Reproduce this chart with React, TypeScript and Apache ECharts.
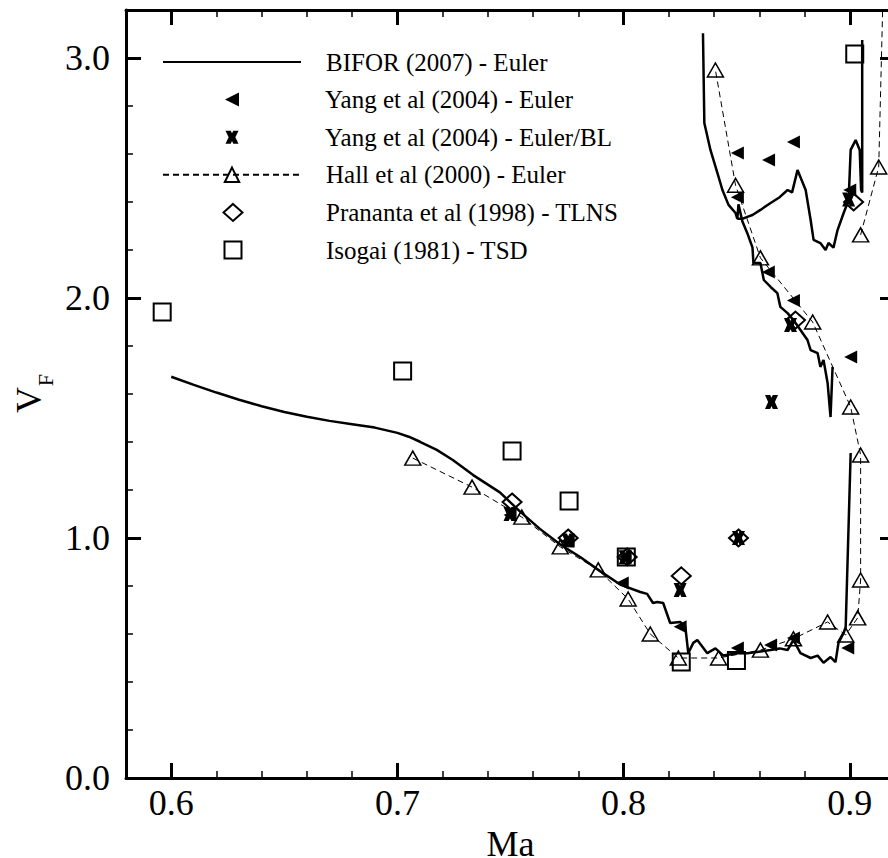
import React, { useEffect, useRef } from 'react';
import * as echarts from 'echarts';

const FONT = "'Liberation Serif', 'Times New Roman', Times, serif";

const X_MIN = 0.58;
const X_MAX = 0.92;
const Y_MIN = 0;
const Y_MAX = 3.2;

const xMajorTicks = [0.6, 0.7, 0.8, 0.9];
const xMinorTicks = [0.58, 0.62, 0.64, 0.66, 0.68, 0.72, 0.74, 0.76, 0.78, 0.82, 0.84, 0.86, 0.88, 0.92];
const yMajorTicks = [0, 1, 2, 3];
const yMinorTicks = [0.2, 0.4, 0.6, 0.8, 1.2, 1.4, 1.6, 1.8, 2.2, 2.4, 2.6, 2.8, 3.2];

const NAME_BIFOR = 'BIFOR (2007) - Euler';
const NAME_YANG = 'Yang et al (2004) - Euler';
const NAME_YANG_BL = 'Yang et al (2004) - Euler/BL';
const NAME_HALL = 'Hall et al (2000) - Euler';
const NAME_PRANANTA = 'Prananta et al (1998) - TLNS';
const NAME_ISOGAI = 'Isogai (1981) - TSD';

// BIFOR (2007) - Euler, lower branch
const biforLower = [
  [0.6, 1.672], [0.61, 1.638], [0.62, 1.606], [0.63, 1.576], [0.64, 1.549], [0.65, 1.525],
  [0.66, 1.505], [0.67, 1.488], [0.68, 1.474], [0.69, 1.46], [0.7, 1.438], [0.705, 1.422],
  [0.71, 1.401], [0.7174, 1.367], [0.7245, 1.325], [0.7335, 1.262],
  [0.7453, 1.19], [0.754, 1.112], [0.763, 1.038], [0.772, 0.973], [0.7808, 0.921], [0.7896, 0.862],
  [0.7985, 0.806], [0.8074, 0.775], [0.8104, 0.767], [0.813, 0.729], [0.8149, 0.733], [0.8175, 0.729],
  [0.8206, 0.646], [0.825, 0.65], [0.8273, 0.63], [0.8286, 0.52], [0.8308, 0.563], [0.8326, 0.575],
  [0.837, 0.52], [0.8406, 0.54], [0.8441, 0.51], [0.8503, 0.52], [0.8547, 0.52], [0.859, 0.525],
  [0.865, 0.533], [0.869, 0.54], [0.8725, 0.533], [0.8751, 0.575], [0.8782, 0.52], [0.8827, 0.5],
  [0.8858, 0.51], [0.8884, 0.48], [0.8915, 0.504], [0.8937, 0.483], [0.895, 0.563], [0.8973, 0.604],
  [0.8982, 0.63], [0.9004, 1.354],
];
// BIFOR upper-left branch going down the diagonal
const biforUpper = [
  [0.8351, 3.103], [0.8357, 2.729], [0.8384, 2.617], [0.8415, 2.52], [0.8437, 2.45], [0.8464, 2.388],
  [0.8495, 2.354], [0.8503, 2.33], [0.8508, 2.39], [0.8525, 2.32], [0.8547, 2.27], [0.857, 2.21],
  [0.8574, 2.146], [0.8605, 2.146], [0.862, 2.075], [0.865, 2.046], [0.868, 2.02], [0.8693, 1.963],
  [0.8725, 1.937], [0.8751, 1.908], [0.8782, 1.867], [0.8813, 1.825], [0.8827, 1.783], [0.8858, 1.77],
  [0.887, 1.713], [0.8884, 1.742], [0.8902, 1.646], [0.8915, 1.504], [0.8924, 1.713],
];
// BIFOR upper loop
const biforLoop = [
  [0.8503, 2.33], [0.8525, 2.33], [0.8547, 2.338], [0.857, 2.346], [0.8605, 2.367], [0.865, 2.396],
  [0.869, 2.42], [0.8725, 2.45], [0.8745, 2.44], [0.8769, 2.533], [0.8805, 2.45], [0.8827, 2.325],
  [0.884, 2.242], [0.887, 2.229], [0.8893, 2.2], [0.8906, 2.229], [0.8928, 2.21], [0.8946, 2.283],
  [0.8973, 2.354], [0.8995, 2.408], [0.9004, 2.617], [0.9026, 2.658], [0.9044, 2.617], [0.905, 2.45],
  [0.9055, 2.44], [0.9055, 3.075],
];

// Hall et al (2000) - Euler
const hallMain = [
  [0.7068, 1.333], [0.733, 1.212], [0.755, 1.087], [0.772, 0.963], [0.7888, 0.867], [0.802, 0.746],
  [0.8118, 0.6], [0.8242, 0.5], [0.842, 0.5], [0.8605, 0.533], [0.8751, 0.58], [0.8902, 0.65],
  [0.8982, 0.596], [0.9035, 0.667], [0.9048, 0.825], [0.9048, 1.346], [0.9004, 1.546],
  [0.8836, 1.9], [0.8605, 2.167], [0.8495, 2.47], [0.8406, 2.95],
];
const hallUpper = [[0.9048, 2.263], [0.9128, 2.546], [0.9148, 3.3]];

// Yang et al (2004) - Euler
const yangEuler = [
  [0.7498, 1.096], [0.7755, 0.99], [0.8007, 0.921], [0.7994, 0.8125], [0.825, 0.63], [0.8503, 0.542],
  [0.865, 0.554], [0.8751, 0.583], [0.8991, 0.542], [0.9004, 1.754], [0.8503, 2.604], [0.8641, 2.575],
  [0.8751, 2.65], [0.8503, 2.42], [0.864, 2.108], [0.8751, 1.99], [0.9, 2.45],
];
// Yang et al (2004) - Euler/BL
const yangBL = [
  [0.7498, 1.1], [0.7755, 0.99], [0.8007, 0.92], [0.825, 0.783], [0.8508, 1.0], [0.8654, 1.567],
  [0.8738, 1.887], [0.8995, 2.41],
];
// Prananta et al (1998) - TLNS
const prananta = [
  [0.7507, 1.15], [0.7755, 1.0], [0.8016, 0.921], [0.8255, 0.842], [0.8508, 1.0], [0.876, 1.908],
  [0.9017, 2.4],
];
// Isogai (1981) - TSD
const isogai = [
  [0.596, 1.942], [0.7023, 1.696], [0.7507, 1.3625], [0.7759, 1.154], [0.8012, 0.921], [0.8255, 0.483],
  [0.8499, 0.49], [0.9022, 3.017],
];

const X_PATH = 'path://M0,0 L4,0 L5,2 L6,0 L10,0 L7.6,5 L10,10 L6,10 L5,8 L4,10 L0,10 L2.4,5 Z';
const LEFT_TRI = 'path://M0,5 L10,0 L10,10 Z';
const HOLLOW = 'rgba(0,0,0,0)';

function xAxisDef(pos: string, ticks: number[], len: number, tw: number, main: boolean) {
  return {
    type: 'value',
    gridIndex: 0,
    position: pos,
    min: X_MIN,
    max: X_MAX,
    name: main && pos === 'bottom' ? 'Ma' : '',
    nameLocation: 'middle',
    nameGap: 37,
    nameTextStyle: { fontFamily: FONT, fontSize: 36, lineHeight: 36, color: '#000' },
    axisLine: { show: main, onZero: false, lineStyle: { color: '#000', width: 3 } },
    axisTick: { show: true, inside: true, length: len, customValues: ticks, lineStyle: { color: '#000', width: tw } },
    axisLabel: {
      show: main && pos === 'bottom',
      customValues: xMajorTicks,
      margin: 7,
      fontFamily: FONT,
      fontSize: 36,
      color: '#000',
      formatter: (v: number) => v.toFixed(1),
    },
    splitLine: { show: false },
    minorTick: { show: false },
  };
}

function yAxisDef(pos: string, ticks: number[], len: number, tw: number, main: boolean) {
  return {
    type: 'value',
    gridIndex: 0,
    position: pos,
    min: Y_MIN,
    max: Y_MAX,
    axisLine: { show: main, onZero: false, lineStyle: { color: '#000', width: 3 } },
    axisTick: { show: true, inside: true, length: len, customValues: ticks, lineStyle: { color: '#000', width: tw } },
    axisLabel: {
      show: main && pos === 'left',
      customValues: yMajorTicks,
      margin: 16,
      fontFamily: FONT,
      fontSize: 36,
      color: '#000',
      formatter: (v: number) => v.toFixed(1),
    },
    splitLine: { show: false },
    minorTick: { show: false },
  };
}

function biforSeries(data: number[][]) {
  return {
    name: NAME_BIFOR,
    type: 'line',
    xAxisIndex: 0,
    yAxisIndex: 0,
    data,
    symbol: 'circle',
    showSymbol: false,
    symbolSize: 0,
    itemStyle: { color: HOLLOW },
    lineStyle: { color: '#000', width: 2.5, opacity: 1 },
    clip: true,
    silent: true,
    z: 2,
  };
}

function hallSeries(data: number[][]) {
  return {
    name: NAME_HALL,
    type: 'line',
    xAxisIndex: 0,
    yAxisIndex: 0,
    data,
    symbol: 'triangle',
    symbolSize: [16, 14],
    showSymbol: true,
    itemStyle: { color: HOLLOW, borderColor: '#000', borderWidth: 1.5, opacity: 1 },
    lineStyle: { color: '#000', width: 1, type: [6, 4], opacity: 1 },
    clip: true,
    silent: true,
    z: 3,
  };
}

const LEGEND_TEXT_X = 325;
const LEGEND_ICON_CX = 232;
function legendRow(name: string, row: number, w: number, h: number, isLine: boolean) {
  const left = isLine ? 162 : LEGEND_ICON_CX - w / 2;
  return {
    data: [name],
    orient: 'vertical',
    left,
    top: 62 + 37.6 * row - 13,
    padding: 0,
    itemWidth: w,
    itemHeight: h,
    symbolKeepAspect: false,
    selectedMode: false,
    textStyle: {
      fontFamily: FONT,
      fontSize: 25,
      lineHeight: 26,
      color: '#000',
      padding: [0, 0, 0, LEGEND_TEXT_X - (left + w + 5)],
    },
  };
}

export default function App() {
  const ref = useRef<HTMLDivElement>(null);
  useEffect(() => {
    const chart = echarts.init(ref.current!, null, { renderer: 'svg' });
    const option: any = {
      animation: false,
      backgroundColor: '#fff',
      grid: { left: 126, top: 10, width: 769, height: 768, containLabel: false, outerBoundsMode: 'none' },
      xAxis: [
        xAxisDef('bottom', xMajorTicks, 15, 3, true),
        xAxisDef('bottom', xMinorTicks, 7, 1.5, false),
        xAxisDef('top', xMajorTicks, 15, 3, true),
        xAxisDef('top', xMinorTicks, 7, 1.5, false),
      ],
      yAxis: [
        yAxisDef('left', yMajorTicks, 15, 3, true),
        yAxisDef('left', yMinorTicks, 7, 1.5, false),
        yAxisDef('right', yMajorTicks, 15, 3, true),
        yAxisDef('right', yMinorTicks, 7, 1.5, false),
      ],
      legend: [
        legendRow(NAME_BIFOR, 0, 138, 16, true),
        legendRow(NAME_YANG, 1, 14, 14, false),
        legendRow(NAME_YANG_BL, 2, 13, 13, false),
        legendRow(NAME_HALL, 3, 138, 18, true),
        legendRow(NAME_PRANANTA, 4, 19, 17, false),
        legendRow(NAME_ISOGAI, 5, 17, 17, false),
      ],
      graphic: [
        { type: 'text', x: 29, y: 400, rotation: Math.PI / 2, style: { text: 'V', font: `36px ${FONT}`, fill: '#000', textAlign: 'center', textVerticalAlign: 'middle' } },
        { type: 'text', x: 45, y: 380, rotation: Math.PI / 2, style: { text: 'F', font: `22px ${FONT}`, fill: '#000', textAlign: 'center', textVerticalAlign: 'middle' } },
      ],
      series: [
        biforSeries(biforLower),
        biforSeries(biforUpper),
        biforSeries(biforLoop),
        hallSeries(hallMain),
        hallSeries(hallUpper),
        {
          name: NAME_YANG, type: 'scatter', xAxisIndex: 0, yAxisIndex: 0, data: yangEuler,
          symbol: LEFT_TRI, symbolSize: [13, 13],
          itemStyle: { color: '#000', opacity: 1 }, silent: true, z: 4,
        },
        {
          name: NAME_YANG_BL, type: 'scatter', xAxisIndex: 0, yAxisIndex: 0, data: yangBL,
          symbol: X_PATH, symbolSize: [13, 14],
          itemStyle: { color: '#000', opacity: 1 }, silent: true, z: 4,
        },
        {
          name: NAME_PRANANTA, type: 'scatter', xAxisIndex: 0, yAxisIndex: 0, data: prananta,
          symbol: 'diamond', symbolSize: [19, 17],
          itemStyle: { color: HOLLOW, borderColor: '#000', borderWidth: 2, opacity: 1 }, silent: true, z: 4,
        },
        {
          name: NAME_ISOGAI, type: 'scatter', xAxisIndex: 0, yAxisIndex: 0, data: isogai,
          symbol: 'rect', symbolSize: 17,
          itemStyle: { color: HOLLOW, borderColor: '#000', borderWidth: 2, opacity: 1 }, silent: true, z: 4,
        },
      ],
    };
    chart.setOption(option);
    return () => chart.dispose();
  }, []);
  return (
    <div style={{ position: 'fixed', left: 0, top: 0, width: 888, height: 858, overflow: 'hidden', background: '#fff' }}>
      <div ref={ref} style={{ width: 900, height: 858 }} />
    </div>
  );
}
